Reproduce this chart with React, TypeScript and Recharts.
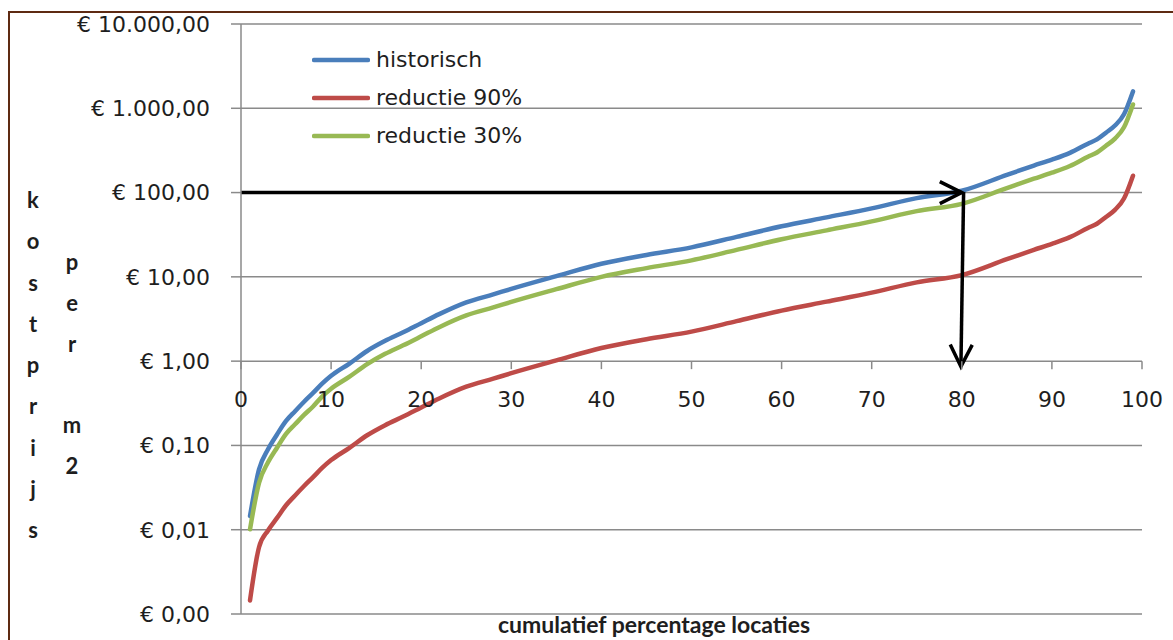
import React from 'react';
import { LineChart, Line, XAxis, YAxis, CartesianGrid, Legend, ReferenceLine, ReferenceDot } from 'recharts';

// cumulative percentage of locations
const X_VALUES = [1, 2, 3, 4, 5, 6, 7, 8, 9, 10, 12, 14, 16, 18, 20, 22, 25, 28, 30, 35, 40, 45, 50, 55, 60, 65, 70, 75, 80, 85, 88, 90, 92, 94, 95, 96, 97, 98, 99];
// cost per m2 (EUR)
const HISTORISCH = [0.0145, 0.052, 0.09, 0.135, 0.195, 0.255, 0.33, 0.42, 0.54, 0.67, 0.93, 1.32, 1.74, 2.2, 2.82, 3.61, 4.98, 6.2, 7.2, 10.2, 14.3, 18.2, 22.4, 29.8, 39.8, 50.8, 65, 86, 105, 162, 209, 246, 296, 380, 427, 513, 624, 850, 1585];
const REDUCTIE_90 = [0.00145, 0.0062, 0.0098, 0.0138, 0.0195, 0.0255, 0.033, 0.042, 0.054, 0.067, 0.093, 0.132, 0.174, 0.22, 0.282, 0.361, 0.498, 0.62, 0.72, 1.02, 1.43, 1.82, 2.24, 2.98, 3.98, 5.08, 6.5, 8.6, 10.5, 16.2, 20.9, 24.6, 29.6, 38, 42.7, 51.3, 62.4, 85, 158.5];
const REDUCTIE_30 = [0.0101, 0.036, 0.063, 0.094, 0.137, 0.178, 0.23, 0.29, 0.38, 0.47, 0.65, 0.92, 1.22, 1.54, 1.97, 2.53, 3.49, 4.34, 5.04, 7.14, 10.0, 12.7, 15.7, 20.9, 27.9, 35.6, 45.5, 60.2, 73.5, 113, 146, 172, 207, 266, 299, 359, 437, 595, 1110];

const SERIES_NAMES = ['historisch', 'reductie 90%', 'reductie 30%'];
const SERIES_KEYS = ['historisch', 'r90', 'r30'];
const SERIES_COLORS = ['#4A7EBB', '#BE4B48', '#98B954'];

const Y_TICKS = [0.001, 0.01, 0.1, 1, 10, 100, 1000, 10000];
const Y_TICK_LABELS = ['€ 0,00', '€ 0,01', '€ 0,10', '€ 1,00', '€ 10,00', '€ 100,00', '€ 1.000,00', '€ 10.000,00'];
const X_TICKS = [0, 10, 20, 30, 40, 50, 60, 70, 80, 90, 100];
const X_AXIS_CROSS = 1;

const ARROW_H = [{ x: 0, y: 100 }, { x: 80, y: 100 }];
const ARROW_V = [{ x: 80.2, y: 100 }, { x: 79.9, y: 0.86 }];

const Y_TITLE_1 = 'kostprijs';
const Y_TITLE_2 = 'per m2';
const X_TITLE = 'cumulatief percentage locaties';

const data = X_VALUES.map((x, i) => ({ x, historisch: HISTORISCH[i], r90: REDUCTIE_90[i], r30: REDUCTIE_30[i] }));

const GRID = '#8A8A8A';
const TEXT = '#1E1E1E';
const TICK_FONT = "'DejaVu Sans', sans-serif";
const BOLD_FONT = "Lato, 'DejaVu Sans', sans-serif";

const Arrow = (p: any) => {
  const { x1, y1, x2, y2 } = p;
  const dx = x2 - x1;
  const dy = y2 - y1;
  const len = Math.hypot(dx, dy) || 1;
  const ux = dx / len;
  const uy = dy / len;
  const back = 22;
  const half = 11;
  const bx = x2 - ux * back;
  const by = y2 - uy * back;
  const px = -uy;
  const py = ux;
  return (
    <g>
      <line x1={x1} y1={y1} x2={x2} y2={y2} stroke="#000" strokeWidth={3.5} />
      <polyline
        points={`${bx + px * half},${by + py * half} ${x2},${y2} ${bx - px * half},${by - py * half}`}
        fill="none"
        stroke="#000"
        strokeWidth={3.5}
      />
    </g>
  );
};

const makeXTick = (label: string) => (p: any) => {
  const { cx, cy } = p;
  return (
    <g>
      <line x1={cx} y1={cy} x2={cx} y2={cy + 8} stroke={GRID} strokeWidth={1.5} />
      <text x={cx} y={cy + 46} textAnchor="middle" fill={TEXT} fontSize={22} fontFamily={TICK_FONT}>
        {label}
      </text>
    </g>
  );
};

const LegendContent = () => (
  <div style={{ fontFamily: TICK_FONT, fontSize: 22, color: TEXT }}>
    {SERIES_NAMES.map((name, i) => (
      <div key={name} style={{ display: 'flex', alignItems: 'center', height: 38 }}>
        <svg width={58} height={38} style={{ marginRight: 6 }}>
          <line x1={2} y1={19} x2={56} y2={19} stroke={SERIES_COLORS[i]} strokeWidth={4.5} strokeLinecap="round" />
        </svg>
        <span style={{ lineHeight: '38px', whiteSpace: 'nowrap' }}>{name}</span>
      </div>
    ))}
  </div>
);

const letterCol = (text: string, left: number, top: number, step: number) => (
  <div style={{ position: 'absolute', left, top, width: 30, textAlign: 'center', fontFamily: BOLD_FONT, fontWeight: 700, fontSize: 22, color: TEXT }}>
    {text.split('').map((ch, i) => (
      <div key={i} style={{ height: step, lineHeight: `${step}px` }}>{ch === ' ' ? '\u00A0' : ch}</div>
    ))}
  </div>
);

export default function App() {
  return (
    <div style={{ position: 'absolute', left: 0, top: 0, width: 1173, height: 640, overflow: 'hidden', background: '#fff' }}>
      <div style={{ position: 'absolute', left: 8, top: 11, width: 2000, height: 2000, borderLeft: '2px solid #5E2A12', borderTop: '2px solid #5E2A12' }} />
      <LineChart width={1173} height={640} data={data} margin={{ top: 24, right: 31, bottom: 26, left: 0 }} style={{ position: 'absolute', left: 0, top: 0 }}>
        <CartesianGrid vertical={false} stroke={GRID} strokeWidth={1.5} />
        <XAxis type="number" dataKey="x" domain={[0, 100]} ticks={X_TICKS} hide />
        <YAxis
          type="number"
          scale="log"
          domain={[0.001, 10000]}
          allowDataOverflow
          ticks={Y_TICKS}
          interval={0}
          width={241}
          tickSize={10}
          tickMargin={21}
          axisLine={{ stroke: GRID, strokeWidth: 1.5 }}
          tickLine={{ stroke: GRID, strokeWidth: 1.5 }}
          tick={{ fill: TEXT, fontSize: 22, fontFamily: TICK_FONT }}
          tickFormatter={(v: number) => Y_TICK_LABELS[Y_TICKS.indexOf(v)] ?? ''}
        />
        {SERIES_KEYS.map((k, i) => (
          <Line
            key={k}
            type="monotone"
            dataKey={k}
            name={SERIES_NAMES[i]}
            stroke={SERIES_COLORS[i]}
            strokeWidth={4.5}
            strokeLinecap="round"
            dot={false}
            activeDot={false}
            isAnimationActive={false}
          />
        ))}
        {X_TICKS.map((t) => (
          <ReferenceDot key={t} x={t} y={X_AXIS_CROSS} r={1} shape={makeXTick(String(t))} />
        ))}
        <ReferenceLine segment={ARROW_H} shape={Arrow} />
        <ReferenceLine segment={ARROW_V} shape={Arrow} />
        <Legend
          layout="vertical"
          verticalAlign="middle"
          align="center"
          content={LegendContent}
          wrapperStyle={{ left: 312, top: 41, width: 300, height: 114 }}
        />
      </LineChart>
      {letterCol(Y_TITLE_1, 18, 179, 41.3)}
      {letterCol(Y_TITLE_2, 57, 242, 40.8)}
      <div style={{ position: 'absolute', left: 354, width: 600, top: 610, textAlign: 'center', fontFamily: BOLD_FONT, fontWeight: 700, fontSize: 23, lineHeight: '28px', color: TEXT, whiteSpace: 'nowrap' }}>
        {X_TITLE}
      </div>
    </div>
  );
}
